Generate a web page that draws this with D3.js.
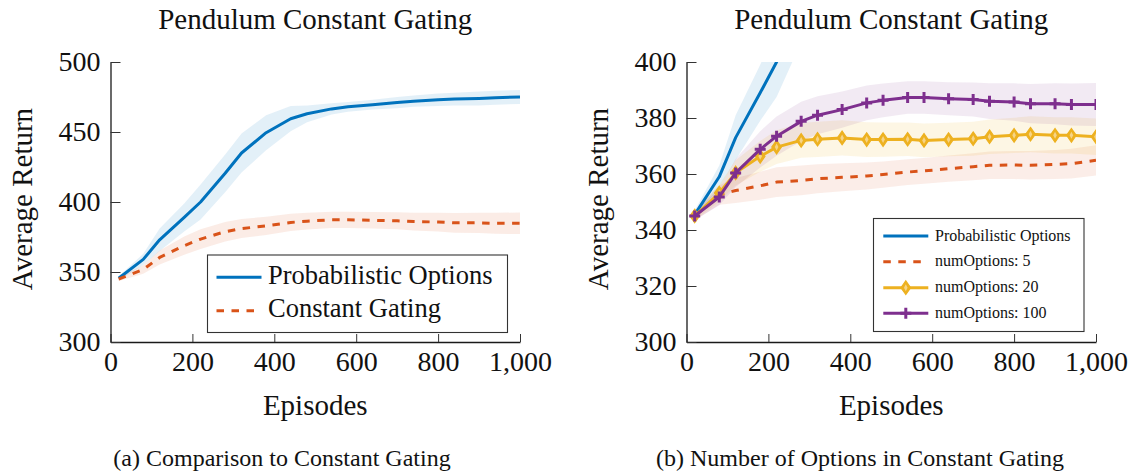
<!DOCTYPE html>
<html>
<head>
<meta charset="utf-8">
<script src="https://cdn.jsdelivr.net/npm/d3@7"></script>
<style>
  html, body { margin: 0; padding: 0; background: #fff; }
  svg { display: block; }
  text { font-family: "Liberation Serif", "Times New Roman", serif; fill: #111; }
</style>
</head>
<body>
<svg id="chart" width="1134" height="471"></svg>
<script>
// Training episodes at which the average return was evaluated
const episodes = [20, 80, 120, 180, 220, 280, 320, 380, 440, 480, 540, 580, 640, 700, 740, 800, 840, 900, 940, 1000];

// Probabilistic options: mean return and spread
const probabilistic    = [345.5, 359, 373, 389, 400, 420.5, 435, 449.5, 459.5, 463, 466.5, 468, 469.5, 471, 472, 473, 473.5, 474, 474.5, 475];
const probabilisticStd = [1.5, 4, 8, 10, 12.5, 13.5, 14, 12.5, 9, 6, 4, 3.5, 3.5, 4, 4, 4.5, 4.5, 5, 5, 5];

// Constant gating with 5, 20 and 100 options
const options5     = [345, 352.5, 354.1, 355.8, 357.1, 357.7, 358.3, 358.8, 359.3, 359.8, 360.7, 361.1, 361.9, 362.6, 363.1, 363.2, 363.1, 363.4, 363.7, 364.9];
const options5Std  = [1.5, 3.5, 4.5, 5, 5.3, 5.3, 5.2, 5, 4.8, 4.7, 4.6, 4.6, 4.7, 4.8, 4.9, 5, 5.1, 5.2, 5.3, 5.4];
const options20    = [345, 353.2, 360.4, 366.3, 369.6, 372.0, 372.4, 372.9, 372.3, 372.3, 372.4, 372.0, 372.3, 372.6, 373.3, 373.8, 374.2, 373.8, 373.8, 373.3];
const options20Std = [1.5, 3, 4.5, 5.5, 6, 6.2, 6.3, 6.3, 6.2, 6.1, 6, 6, 6, 6.1, 6.2, 6.3, 6.4, 6.5, 6.5, 6.5];
const options100   = [345, 351.8, 360.4, 368.8, 373.5, 378.8, 381, 383, 385.4, 386.3, 387.3, 387.3, 386.9, 386.6, 386, 385.7, 385.1, 385.1, 384.8, 384.8];
const options100Std= [1.5, 3, 5, 6.5, 7, 7, 6.8, 6.5, 6.2, 6, 5.8, 5.8, 5.9, 6.1, 6.4, 6.7, 7, 7.3, 7.5, 7.7];

// Axis ticks
const xTicks = [0, 200, 400, 600, 800, 1000];
const yTicksA = [300, 350, 400, 450, 500];
const yTicksB = [300, 320, 340, 360, 380, 400];

// Titles and labels
const chartTitle = "Pendulum Constant Gating";
const xLabel = "Episodes";
const yLabel = "Average Return";
const captions = ["(a) Comparison to Constant Gating", "(b) Number of Options in Constant Gating"];
const legendA = ["Probabilistic Options", "Constant Gating"];
const legendB = ["Probabilistic Options", "numOptions: 5", "numOptions: 20", "numOptions: 100"];

const COLORS = { blue: "#0072BD", orange: "#D95319", yellow: "#EDB120", purple: "#7E2F8E" };

const svg = d3.select("#chart");
svg.append("rect").attr("width", 1134).attr("height", 471).attr("fill", "#fff");

const mk = (vals, std) => episodes.map((e, i) => ({ x: e, y: vals[i], s: std[i] }));

function panel(cfg) {
  const x = d3.scaleLinear().domain([0, 1000]).range([cfg.left, cfg.right]);
  const y = d3.scaleLinear().domain(cfg.yDomain).range([342, 62]);
  const g = svg.append("g");
  const clipId = "clip" + cfg.id;
  svg.append("clipPath").attr("id", clipId)
    .append("rect").attr("x", cfg.left).attr("y", 62)
    .attr("width", cfg.right - cfg.left).attr("height", 280);

  const plot = g.append("g").attr("clip-path", `url(#${clipId})`);
  const area = d3.area().x(d => x(d.x)).y0(d => y(d.y - d.s)).y1(d => y(d.y + d.s));
  const line = d3.line().x(d => x(d.x)).y(d => y(d.y));

  cfg.series.forEach(s => {
    plot.append("path").datum(s.data).attr("d", area)
      .attr("fill", s.color).attr("fill-opacity", s.bandOpacity || 0.12).attr("stroke", "none");
  });
  cfg.series.forEach(s => {
    plot.append("path").datum(s.data).attr("d", line)
      .attr("fill", "none").attr("stroke", s.color).attr("stroke-width", 3)
      .attr("stroke-dasharray", s.dashed ? "7.5,7.5" : null)
      .attr("stroke-linejoin", "round");
    if (s.marker) {
      s.data.forEach(d => drawMarker(plot, s.marker, x(d.x), y(d.y), s.color));
    }
  });

  // axes: ticks point inward, only left and bottom lines
  const ax = g.append("g").attr("transform", "translate(0,342)")
    .call(d3.axisBottom(x).tickValues(xTicks).tickFormat(d3.format(","))
      .tickSizeInner(-8).tickSizeOuter(0).tickPadding(9));
  const ay = g.append("g").attr("transform", `translate(${cfg.left},0)`)
    .call(d3.axisLeft(y).tickValues(cfg.yTicks).tickFormat(d3.format("d"))
      .tickSizeInner(-10).tickSizeOuter(0).tickPadding(10));
  [ax, ay].forEach(a => {
    a.attr("font-family", null).attr("font-size", null);
    a.selectAll("path.domain").attr("stroke", "#1a1a1a").attr("stroke-width", 1.3);
    a.selectAll(".tick line").attr("stroke", "#333").attr("stroke-width", 1);
    a.selectAll(".tick text").attr("font-size", 28).attr("fill", "#111")
      .style("font-family", '"Liberation Serif", "Times New Roman", serif');
  });

  const cx = (cfg.left + cfg.right) / 2;
  g.append("text").attr("x", cx).attr("y", 29).attr("text-anchor", "middle")
    .attr("font-size", 29).text(chartTitle);
  g.append("text").attr("x", cx).attr("y", 415).attr("text-anchor", "middle")
    .attr("font-size", 29).text(xLabel);
  g.append("text").attr("transform", `translate(${cfg.left - 79},199) rotate(-90)`)
    .attr("text-anchor", "middle").attr("font-size", 29).text(yLabel);
  g.append("text").attr("x", cfg.captionX).attr("y", 466).attr("text-anchor", "middle")
    .attr("font-size", 24).text(cfg.caption);

  // legend
  const L = cfg.legend;
  g.append("rect").attr("x", L.x).attr("y", L.y).attr("width", L.w).attr("height", L.h)
    .attr("fill", "#fff").attr("stroke", "#333").attr("stroke-width", 1.1);
  L.items.forEach((it, i) => {
    const ly = L.rowY[i];
    g.append("line").attr("x1", L.lx0).attr("x2", L.lx1).attr("y1", ly).attr("y2", ly)
      .attr("stroke", it.color).attr("stroke-width", 3)
      .attr("stroke-dasharray", it.dashed ? "7.5,7.5" : null);
    if (it.marker) drawMarker(g, it.marker, (L.lx0 + L.lx1) / 2, ly, it.color);
    g.append("text").attr("x", L.tx).attr("y", ly + L.baseOff)
      .attr("font-size", L.fs).text(it.label);
  });
}

function drawMarker(sel, type, cx, cy, color) {
  if (type === "diamond") {
    sel.append("path")
      .attr("d", `M${cx},${cy - 6.8}L${cx + 4.8},${cy}L${cx},${cy + 6.8}L${cx - 4.8},${cy}Z`)
      .attr("fill", color).attr("stroke", color).attr("stroke-width", 1.2);
    sel.append("path")
      .attr("d", `M${cx},${cy - 3.5}L${cx + 1.8},${cy}L${cx},${cy + 3.5}L${cx - 1.8},${cy}Z`)
      .attr("fill", "#f6d488").attr("stroke", "none");
  } else if (type === "plus") {
    sel.append("path")
      .attr("d", `M${cx - 5.5},${cy}H${cx + 5.5}M${cx},${cy - 5.5}V${cy + 5.5}`)
      .attr("stroke", color).attr("stroke-width", 3).attr("fill", "none");
  }
}

panel({
  id: "A", left: 110.5, right: 520, yDomain: [300, 500], yTicks: yTicksA,
  caption: captions[0], captionX: 282,
  series: [
    { data: mk(probabilistic, probabilisticStd), color: COLORS.blue, bandOpacity: 0.11 },
    { data: mk(options100, options100Std), color: COLORS.orange, dashed: true, bandOpacity: 0.11 }
  ],
  legend: {
    x: 207.5, y: 255, w: 300, h: 77.5, lx0: 216.5, lx1: 261.5, tx: 268, fs: 26.5, baseOff: 6.5,
    rowY: [277.3, 310.7],
    items: [
      { label: legendA[0], color: COLORS.blue },
      { label: legendA[1], color: COLORS.orange, dashed: true }
    ]
  }
});

panel({
  id: "B", left: 686.5, right: 1096, yDomain: [300, 400], yTicks: yTicksB,
  caption: captions[1], captionX: 860,
  series: [
    { data: mk(probabilistic, probabilisticStd), color: COLORS.blue, bandOpacity: 0.11 },
    { data: mk(options5, options5Std), color: COLORS.orange, dashed: true, bandOpacity: 0.1 },
    { data: mk(options20, options20Std), color: COLORS.yellow, marker: "diamond", bandOpacity: 0.12 },
    { data: mk(options100, options100Std), color: COLORS.purple, marker: "plus", bandOpacity: 0.1 }
  ],
  legend: {
    x: 873.5, y: 218.5, w: 210.5, h: 113, lx0: 883.3, lx1: 928.3, tx: 935, fs: 16, baseOff: 4.5,
    rowY: [236, 261.7, 287.7, 313.3],
    items: [
      { label: legendB[0], color: COLORS.blue },
      { label: legendB[1], color: COLORS.orange, dashed: true },
      { label: legendB[2], color: COLORS.yellow, marker: "diamond" },
      { label: legendB[3], color: COLORS.purple, marker: "plus" }
    ]
  }
});
</script>
</body>
</html>
